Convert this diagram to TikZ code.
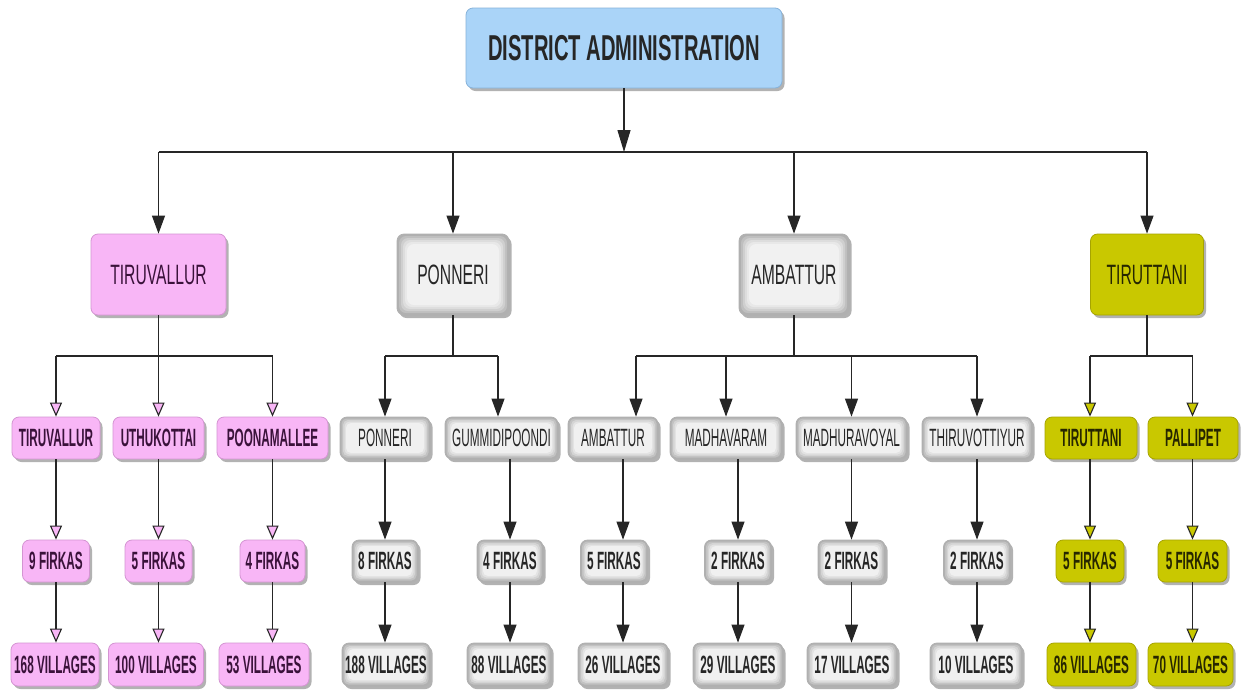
\documentclass[tikz,border=0pt]{standalone}
\usepackage{fontspec}
\newfontfamily\nf[FakeStretch=0.56]{Liberation Sans}
\newfontfamily\nfs[FakeStretch=0.47]{Liberation Sans}
\usetikzlibrary{arrows.meta,shadows}
\definecolor{pinkf}{HTML}{F8B6F6}
\definecolor{pinkd}{HTML}{D494D2}
\definecolor{pinkt}{HTML}{3A123A}
\definecolor{yelf}{HTML}{C9C800}
\definecolor{yeld}{HTML}{A6A400}
\definecolor{yelt}{HTML}{262600}
\definecolor{bluef}{HTML}{AAD4F8}
\definecolor{blued}{HTML}{86B2DA}
\definecolor{greyt}{HTML}{262626}
\tikzset{
  shad/.style={drop shadow={shadow xshift=2.5pt,shadow yshift=-3pt,opacity=.3,fill=black}},
  box/.style={rounded corners=7pt, inner sep=0pt, line width=0.8pt, shad, align=center},
  small/.style={minimum height=42pt, font=\nfs\bfseries\fontsize{25}{25}\selectfont},
  smallreg/.style={font=\nfs\fontsize{25}{25}\selectfont},
  big/.style={minimum height=81pt, font=\nf\fontsize{28}{28}\selectfont},
  pinkbox/.style={box, fill=pinkf, draw=pinkd, text=pinkt},
  yelbox/.style={box, fill=yelf, draw=yeld, text=yelt},
  greyS/.style={box, fill=gray!62, draw=gray!62, text=greyt, path picture={
    \foreach \s/\c in {1.5/48,3/34,4.5/22,6/12}{
      \fill[gray!\c, rounded corners=5pt] ([shift={(\s pt,-\s pt)}]path picture bounding box.north west) rectangle ([shift={(-\s pt,\s pt)}]path picture bounding box.south east);}}},
  greyL/.style={box, fill=gray!62, draw=gray!62, text=greyt, path picture={
    \foreach \s/\c in {2/50,4/38,6/27,8/18,10/11}{
      \fill[gray!\c, rounded corners=7pt] ([shift={(\s pt,-\s pt)}]path picture bounding box.north west) rectangle ([shift={(-\s pt,\s pt)}]path picture bounding box.south east);}}},
  ln/.style={line width=1.1pt, draw=black!85},
  arrB/.style={ln, -{Triangle[length=18pt,width=13pt]}},
  arrP/.style={ln, -{Triangle[length=14pt,width=12pt,fill=pinkf]}},
  arrY/.style={ln, -{Triangle[length=14pt,width=12pt,fill=yelf]}},
}
\begin{document}
\begin{tikzpicture}[x=1pt,y=-1pt]
\fill[white] (0,0) rectangle (1241,689);
\useasboundingbox (0,0) rectangle (1241,689);

% top
\node[box, fill=bluef, draw=blued, minimum width=316pt, minimum height=80pt,
  font=\nf\bfseries\fontsize{36}{36}\selectfont, text=black!85] (top) at (624,48) {DISTRICT ADMINISTRATION};

% level 1
\node[pinkbox, big, minimum width=135pt] (la) at (158.5,274.5) {TIRUVALLUR};
\node[greyL, big, minimum width=112pt] (lb) at (453,274.5) {PONNERI};
\node[greyL, big, minimum width=110pt] (lc) at (794,274.5) {AMBATTUR};
\node[yelbox, big, minimum width=113pt] (ld) at (1147,274.5) {TIRUTTANI};

% level 2
\node[pinkbox, small, minimum width=88pt] (p1) at (56,438) {TIRUVALLUR};
\node[pinkbox, small, minimum width=91pt] (p2) at (158.5,438) {UTHUKOTTAI};
\node[pinkbox, small, minimum width=111pt] (p3) at (272.5,438) {POONAMALLEE};
\node[greyS, small, smallreg, minimum width=90pt] (g1) at (385,438) {PONNERI};
\node[greyS, small, smallreg, minimum width=113pt] (g2) at (501.5,438) {GUMMIDIPOONDI};
\node[greyS, small, smallreg, minimum width=90pt] (g3) at (613,438) {AMBATTUR};
\node[greyS, small, smallreg, minimum width=112pt] (g4) at (726,438) {MADHAVARAM};
\node[greyS, small, smallreg, minimum width=111pt] (g5) at (851.5,438) {MADHURAVOYAL};
\node[greyS, small, smallreg, minimum width=110pt] (g6) at (977,438) {THIRUVOTTIYUR};
\node[yelbox, small, minimum width=92pt] (y1) at (1091,438) {TIRUTTANI};
\node[yelbox, small, minimum width=90pt] (y2) at (1193,438) {PALLIPET};

% firkas
\node[pinkbox, small, minimum width=67pt] (fp1) at (56,561) {9 FIRKAS};
\node[pinkbox, small, minimum width=67pt] (fp2) at (158.5,561) {5 FIRKAS};
\node[pinkbox, small, minimum width=65pt] (fp3) at (272.5,561) {4 FIRKAS};
\node[greyS, small, minimum width=66pt] (fg1) at (385,561) {8 FIRKAS};
\node[greyS, small, minimum width=66pt] (fg2) at (510,561) {4 FIRKAS};
\node[greyS, small, minimum width=67pt] (fg3) at (614,561) {5 FIRKAS};
\node[greyS, small, minimum width=67pt] (fg4) at (738,561) {2 FIRKAS};
\node[greyS, small, minimum width=67pt] (fg5) at (851.5,561) {2 FIRKAS};
\node[greyS, small, minimum width=67pt] (fg6) at (977,561) {2 FIRKAS};
\node[yelbox, small, minimum width=68pt] (fy1) at (1090,561) {5 FIRKAS};
\node[yelbox, small, minimum width=69pt] (fy2) at (1192.5,561) {5 FIRKAS};

% villages
\node[pinkbox, small, minimum width=88pt, minimum height=43pt] (vp1) at (55,664.5) {168 VILLAGES};
\node[pinkbox, small, minimum width=95pt, minimum height=43pt] (vp2) at (156,664.5) {100 VILLAGES};
\node[pinkbox, small, minimum width=90pt, minimum height=43pt] (vp3) at (264,664.5) {53 VILLAGES};
\node[greyS, small, minimum width=88pt, minimum height=43pt] (vg1) at (386,664.5) {188 VILLAGES};
\node[greyS, small, minimum width=84pt, minimum height=43pt] (vg2) at (509,664.5) {88 VILLAGES};
\node[greyS, small, minimum width=90pt, minimum height=43pt] (vg3) at (623,664.5) {26 VILLAGES};
\node[greyS, small, minimum width=90pt, minimum height=43pt] (vg4) at (738,664.5) {29 VILLAGES};
\node[greyS, small, minimum width=90pt, minimum height=43pt] (vg5) at (852,664.5) {17 VILLAGES};
\node[greyS, small, minimum width=92pt, minimum height=43pt] (vg6) at (976,664.5) {10 VILLAGES};
\node[yelbox, small, minimum width=89pt, minimum height=43pt] (vy1) at (1091.5,664.5) {86 VILLAGES};
\node[yelbox, small, minimum width=85pt, minimum height=43pt] (vy2) at (1190.5,664.5) {70 VILLAGES};

% top connectors
\coordinate (b0) at (624,152);
\coordinate (b1) at (0,356);
\draw[ln, -{Triangle[length=22pt,width=13pt]}] (top.south) -- (b0);
\draw[ln] (la.north |- b0) -- (ld.north |- b0);
\foreach \n in {la,lb,lc,ld} \draw[arrB] (\n.north |- b0) -- (\n.north);

% Tiruvallur branch
\draw[ln] (la.south) -- (la.south |- b1);
\draw[ln] (p1.north |- b1) -- (p3.north |- b1);
\foreach \n in {p1,p2,p3} \draw[arrP] (\n.north |- b1) -- (\n.north);
\draw[arrP] (p1.south) -- (fp1.north);
\draw[arrP] (p2.south) -- (fp2.north);
\draw[arrP] (p3.south) -- (fp3.north);
\draw[arrP] (fp1.south) -- (fp1.south |- vp1.north);
\draw[arrP] (fp2.south) -- (fp2.south |- vp2.north);
\draw[arrP] (fp3.south) -- (fp3.south |- vp3.north);

% Ponneri branch
\coordinate (xg2) at (498,0);
\draw[ln] (lb.south) -- (lb.south |- b1);
\draw[ln] (g1.north |- b1) -- (xg2 |- b1);
\draw[arrB] (g1.north |- b1) -- (g1.north);
\draw[arrB] (xg2 |- b1) -- (xg2 |- g2.north);
\draw[arrB] (g1.south) -- (fg1.north);
\draw[arrB] (fg2.north |- g2.south) -- (fg2.north);
\draw[arrB] (fg1.south) -- (fg1.south |- vg1.north);
\draw[arrB] (fg2.south) -- (fg2.south |- vg2.north);

% Ambattur branch
\coordinate (xg3) at (636,0);
\coordinate (xa) at (623,0);
\draw[ln] (lc.south) -- (lc.south |- b1);
\draw[ln] (xg3 |- b1) -- (g6.north |- b1);
\draw[arrB] (xg3 |- b1) -- (xg3 |- g3.north);
\foreach \n in {g4,g5,g6} \draw[arrB] (\n.north |- b1) -- (\n.north);
\draw[arrB] (xa |- g3.south) -- (xa |- fg3.north);
\draw[arrB] (xa |- fg3.south) -- (vg3.north);
\draw[arrB] (g4.south -| fg4.north) -- (fg4.north);
\draw[arrB] (g5.south) -- (fg5.north);
\draw[arrB] (g6.south) -- (fg6.north);
\draw[arrB] (fg4.south) -- (fg4.south |- vg4.north);
\draw[arrB] (fg5.south) -- (fg5.south |- vg5.north);
\draw[arrB] (fg6.south) -- (fg6.south |- vg6.north);

% Tiruttani branch
\draw[ln] (ld.south) -- (ld.south |- b1);
\draw[ln] (fy1.north |- b1) -- (fy2.north |- b1);
\draw[arrY] (fy1.north |- b1) -- (fy1.north |- y1.north);
\draw[arrY] (fy2.north |- b1) -- (fy2.north |- y2.north);
\draw[arrY] (fy1.north |- y1.south) -- (fy1.north);
\draw[arrY] (fy2.north |- y2.south) -- (fy2.north);
\draw[arrY] (fy1.south) -- (fy1.south |- vy1.north);
\draw[arrY] (fy2.south) -- (fy2.south |- vy2.north);
\end{tikzpicture}
\end{document}
